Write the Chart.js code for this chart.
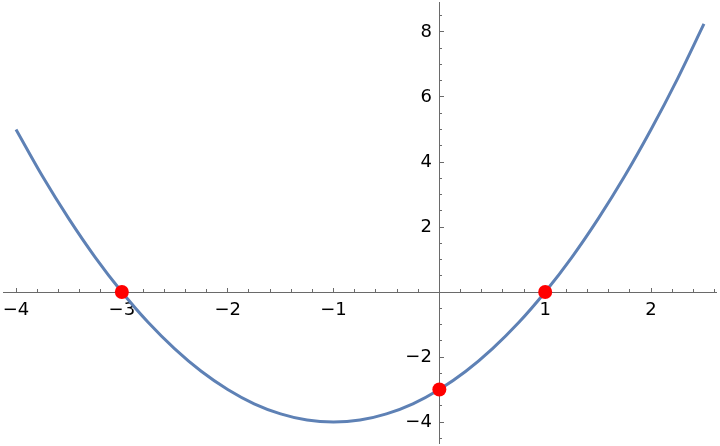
<!DOCTYPE html>
<html>
<head>
<meta charset="utf-8">
<script src="https://cdn.jsdelivr.net/npm/chart.js@4.4.0/dist/chart.umd.min.js"></script>
<style>
  html, body { margin: 0; padding: 0; background: #fff; }
  #wrap { width: 720px; height: 446px; }
</style>
</head>
<body>
<div id="wrap"><canvas id="plot" width="720" height="446"></canvas></div>
<script>
// curve samples
const curveX = [-4, -3.75, -3.5, -3.25, -3, -2.75, -2.5, -2.25, -2, -1.75, -1.5, -1.25, -1,
    -0.75, -0.5, -0.25, 0, 0.25, 0.5, 0.75, 1, 1.25, 1.5, 1.75, 2, 2.25, 2.5]
const curveY = [5, 3.56, 2.25, 1.06, 0, -0.94, -1.75, -2.44, -3, -3.44, -3.75, -3.94, -4,
    -3.94, -3.75, -3.44, -3, -2.44, -1.75, -0.94, 0, 1.06, 2.25, 3.56, 5, 6.56, 8.25]

// marked points
const dotX = [-3, 1, 0]
const dotY = [0, 0, -3]

// tick labels
const xMajor = [-4, -3, -2, -1, 0, 1, 2]
const yMajor = [-4, -2, 0, 2, 4, 6, 8]

var xMinor = []
for (var i = -20; i <= 13; i++) {
    if (i % 5 !== 0) xMinor.push(i / 5)
}
var yMinor = []
for (var j = -9; j <= 17; j++) {
    if (j % 4 !== 0) yMinor.push(j / 2)
}

const axisColor = '#6a6a6a'
const labelFont = {family: 'DejaVu Sans', size: 18}

function fmt(v) {
    if (v === 0) return ''
    return String(v).replace('-', '\u2212')
}

function tickSetter(list) {
    return function (scale) {
        scale.ticks = list.map(function (v) { return {value: v} })
    }
}

// axes sit inside the plot, so they take no room and add no padding
function noRoom(s) {
    if (s.isHorizontal()) s.height = 0
    else s.width = 0
    s.paddingLeft = s.paddingRight = s.paddingTop = s.paddingBottom = 0
}

var curve = curveX.map(function (x, k) { return {x: x, y: curveY[k]} })
var dots = dotX.map(function (x, k) { return {x: x, y: dotY[k]} })

const xRange = {min: -4.123, max: 2.614}
const yRange = {min: -4.646, max: 8.923}

new Chart(document.getElementById('plot'), {
    type: 'line',
    data: {
        datasets: [
            {
                data: dots,
                showLine: false,
                pointRadius: 7,
                pointHoverRadius: 7,
                pointBackgroundColor: '#ff0000',
                pointBorderWidth: 0,
                order: 0
            },
            {
                data: curve,
                borderColor: '#5e81b5',
                borderWidth: 3,
                pointRadius: 0,
                fill: false,
                cubicInterpolationMode: 'monotone',
                order: 1
            }
        ]
    },
    options: {
        responsive: false,
        animation: false,
        layout: {autoPadding: false, padding: {left: 3, right: 4, top: 2, bottom: 3}},
        plugins: {legend: {display: false}, tooltip: {enabled: false}},
        scales: {
            x: {
                type: 'linear',
                position: {y: 0},
                min: xRange.min,
                max: xRange.max,
                afterBuildTicks: tickSetter(xMajor),
                afterFit: noRoom,
                grid: {drawOnChartArea: false, tickLength: -5, tickColor: axisColor},
                border: {color: axisColor, width: 1},
                ticks: {
                    autoSkip: false, maxRotation: 0, padding: 13,
                    color: '#000', font: labelFont,
                    callback: function (v) { return fmt(v) }
                }
            },
            xm: {
                type: 'linear',
                position: {y: 0},
                min: xRange.min,
                max: xRange.max,
                afterBuildTicks: tickSetter(xMinor),
                afterFit: noRoom,
                grid: {drawOnChartArea: false, tickLength: -3, tickColor: axisColor},
                border: {display: false},
                ticks: {autoSkip: false, callback: function () { return '' }}
            },
            y: {
                type: 'linear',
                position: {x: 0},
                min: yRange.min,
                max: yRange.max,
                afterBuildTicks: tickSetter(yMajor),
                afterFit: noRoom,
                grid: {drawOnChartArea: false, tickLength: -5, tickColor: axisColor},
                border: {color: axisColor, width: 1},
                ticks: {
                    autoSkip: false,
                    color: '#000', font: labelFont,
                    // the library puts these labels flush on the axis, so a space keeps the gap
                    callback: function (v) { return v === 0 ? '' : fmt(v) + ' \u200A' }
                }
            },
            ym: {
                type: 'linear',
                position: {x: 0},
                min: yRange.min,
                max: yRange.max,
                afterBuildTicks: tickSetter(yMinor),
                afterFit: noRoom,
                grid: {drawOnChartArea: false, tickLength: -3, tickColor: axisColor},
                border: {display: false},
                ticks: {autoSkip: false, callback: function () { return '' }}
            }
        }
    }
})
</script>
</body>
</html>
